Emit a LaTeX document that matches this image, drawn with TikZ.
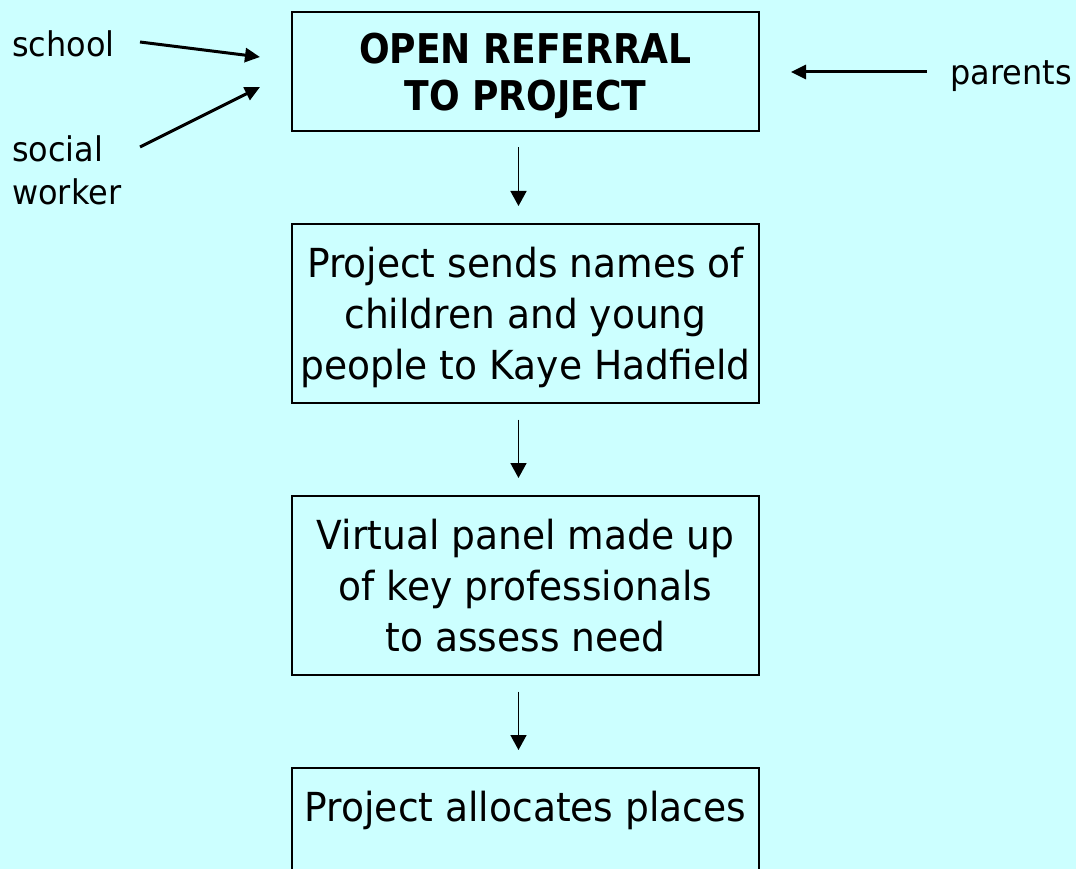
\documentclass[tikz,border=0pt]{standalone}
\usepackage{fontspec}
\setmainfont[FakeStretch=0.94]{DejaVu Sans}
\newfontfamily\titlefont[FakeStretch=0.88]{DejaVu Sans}
\usetikzlibrary{arrows.meta}
\definecolor{bgcyan}{HTML}{CCFFFF}
\tikzset{
  flowbox/.style={draw=black, line width=2pt, minimum width=467pt, inner sep=0pt,
    align=center, text depth=0pt, font=\fontsize{40}{51}\selectfont},
  titlebox/.style={flowbox, minimum height=119pt, font=\titlefont\bfseries\fontsize{41}{47}\selectfont},
  tallbox/.style={flowbox, minimum height=179pt},
  lbl/.style={anchor=base west, inner sep=0pt, font=\fontsize{34}{43}\selectfont},
  thickarrow/.style={line width=3pt, -{Triangle[length=15pt,width=14pt]}},
  downarrow/.style={line width=1.6pt, -{Triangle[length=15pt,width=16pt]}, shorten <=15.5pt, shorten >=17pt}
}
\begin{document}
\begin{tikzpicture}[x=1pt,y=-1pt]
\fill[bgcyan] (0,0) rectangle (1076,869);
\useasboundingbox (0,0) rectangle (1076,869);

\node[titlebox] (b1) at (525.5,71.5) {OPEN REFERRAL\\TO PROJECT};
\node[tallbox] (b2) at (525.5,313.5) {Project sends names of\\children and young\\people to Kaye Hadfield};
\node[tallbox] (b3) at (525.5,585.5) {Virtual panel made up\\of key professionals\\to assess need};
\node[tallbox] (b4) at (525.5,857.5) {Project allocates places\\\mbox{}\\\mbox{}};

\draw[downarrow] ([xshift=-7pt]b1.south) -- ([xshift=-7pt]b2.north);
\draw[downarrow] ([xshift=-7pt]b2.south) -- ([xshift=-7pt]b3.north);
\draw[downarrow] ([xshift=-7pt]b3.south) -- ([xshift=-7pt]b4.north);

\node[lbl] (school) at (12,57) {school};
\node[lbl] (social) at (12,162) {social};
\node[lbl] (worker) at (12,205) {worker};
\node[lbl] (parents) at (950,85) {parents};

\coordinate (sA) at (140,42);
\coordinate (tA) at (260,57);
\coordinate (sB) at (140,147);
\coordinate (tB) at (260,87);
\coordinate (sC) at (927,72);
\coordinate (tC) at (791,72);

\draw[thickarrow] (sA) -- (tA);
\draw[thickarrow] (sB) -- (tB);
\draw[thickarrow] (sC) -- (tC);
\end{tikzpicture}
\end{document}
